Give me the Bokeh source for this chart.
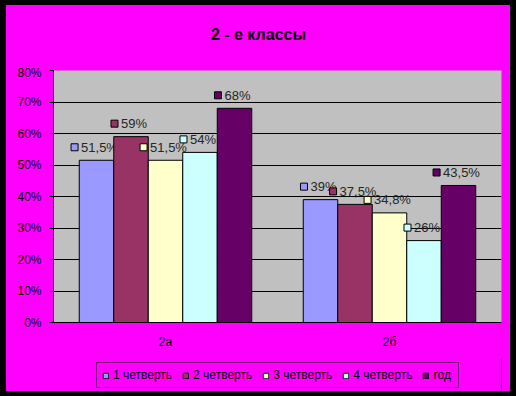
from bokeh.plotting import figure
from bokeh.layouts import column
from bokeh.models import (ColumnDataSource, FactorRange, Range1d, FixedTicker,
                          NumeralTickFormatter, Legend, LegendItem, Label)
from bokeh.transform import dodge
from bokeh.embed import file_html
from bokeh.resources import INLINE

# ---------------- data ----------------
title_text = "2 - е классы"
categories = ["2а", "2б"]
series_names = ["1 четверть", "2 четверть", "3 четверть", "4 четверть", "год"]
q1 = [51.5, 39.0]
q2 = [59.0, 37.5]
q3 = [51.5, 34.8]
q4 = [54.0, 26.0]
year = [68.0, 43.5]
y_ticks = [0, 10, 20, 30, 40, 50, 60, 70, 80]

series_values = [q1, q2, q3, q4, year]

# ---------------- style ----------------
colors = ["#9999FF", "#993366", "#FFFFCC", "#CCFFFF", "#660066"]
BG = "#FF00FF"
FONT = "Liberation Sans"
W = 504
H_TOP, H_MAIN, H_LEG = 60, 293, 33
ML, MR, MT, MB = 47, 9, 5, 36
frame_w = W - ML - MR
frame_h = H_MAIN - MT - MB
y_max = y_ticks[-1] / 100
unit_per_px_x = len(categories) / frame_w
unit_per_px_y = y_max / frame_h
bar_w = 34.5 * unit_per_px_x
LABEL_PX = 13
char_w = {"%": 0.889, ",": 0.278}


def text_width(s, size=LABEL_PX):
    return sum(char_w.get(ch, 0.556) for ch in s) * size


def blank_fig(h):
    f = figure(width=W, height=h, title=None, x_axis_type=None, y_axis_type=None,
               output_backend="svg", toolbar_location=None,
               min_border=0, x_range=Range1d(0, 1), y_range=Range1d(0, 1))
    f.background_fill_color = BG
    f.border_fill_color = BG
    f.outline_line_color = None
    return f


# ---------------- title ----------------
p_top = blank_fig(H_TOP)
# screen units here are relative to the (column-aligned) frame, whose left is at ML
p_top.add_layout(Label(x=252 - ML, y=31, x_units="screen", y_units="screen",
                       text=title_text, text_align="center", text_baseline="middle",
                       text_font=FONT, text_font_size="16px", text_font_style="bold",
                       text_color="black"))

# ---------------- main chart ----------------
p = figure(width=W, height=H_MAIN, title=None,
           x_range=FactorRange(factors=categories, range_padding=0),
           y_range=Range1d(0, y_max),
           output_backend="svg", toolbar_location=None,
           min_border_left=ML, min_border_right=MR,
           min_border_top=MT, min_border_bottom=MB)

p.background_fill_color = "#C0C0C0"
p.border_fill_color = BG
p.outline_line_color = None

n = len(series_values)
for i, (name, vals, col) in enumerate(zip(series_names, series_values, colors)):
    off = (i - (n - 1) / 2) * bar_w
    labels = [("%g" % v).replace(".", ",") + "%" for v in vals]
    key_x, key_y, txo = [], [], []
    for c, v, lab in zip(categories, vals, labels):
        total = 7 + 3 + text_width(lab)
        start_px = -total / 2 - 2
        key_x.append((c, off + (start_px + 3.5) * unit_per_px_x))
        key_y.append(v / 100 + 13 * unit_per_px_y)
        txo.append(start_px + 10)
    src = ColumnDataSource(dict(cat=categories, val=[v / 100 for v in vals],
                                lab=labels, kx=key_x, ky=key_y, txo=txo))
    p.vbar(x=dodge("cat", off, range=p.x_range), top="val", width=bar_w,
           source=src, fill_color=col, line_color="black", line_width=1)
    p.text(x=dodge("cat", off, range=p.x_range), y="val", text="lab",
           x_offset="txo", y_offset=-13, source=src,
           text_align="left", text_baseline="middle",
           text_font_size=f"{LABEL_PX}px", text_color="#262626",
           text_font={"value": FONT})
    p.scatter(x="kx", y="ky", source=src, marker="square", size=7,
              fill_color=col, line_color="black", line_width=1)

p.xgrid.grid_line_color = None
p.ygrid.grid_line_color = "black"
p.ygrid.grid_line_width = 1
p.yaxis.ticker = FixedTicker(ticks=[t / 100 for t in y_ticks])
p.yaxis.formatter = NumeralTickFormatter(format="0%")
p.yaxis.major_tick_out = 4
p.yaxis.major_tick_in = 0
p.yaxis.minor_tick_line_color = None
p.yaxis.axis_line_color = "black"
p.yaxis.major_tick_line_color = "black"
p.yaxis.major_label_standoff = 8
p.yaxis.major_label_text_font = FONT
p.yaxis.major_label_text_font_size = "12px"
p.yaxis.major_label_text_color = "black"

p.xaxis.major_tick_line_color = None
p.xaxis.minor_tick_line_color = None
p.xaxis.major_tick_out = 0
p.xaxis.axis_line_color = "black"
p.xaxis.major_label_standoff = 12
p.xaxis.major_label_text_font = FONT
p.xaxis.major_label_text_font_size = "12px"
p.xaxis.major_label_text_color = "black"

# ---------------- legend ----------------
p_leg = blank_fig(H_LEG)
legend_items = []
for name, col in zip(series_names, colors):
    # swatch-only renderer, placed outside the visible range of this strip
    r = p_leg.vbar(x=[5], top=[1], width=0.1, fill_color=col,
                   line_color="black", line_width=1)
    legend_items.append(LegendItem(label=name, renderers=[r]))
legend = Legend(items=legend_items, orientation="horizontal", location=(43, 3),
                glyph_width=7, glyph_height=7, label_standoff=4, spacing=10,
                padding=5, margin=0, label_height=12,
                border_line_color="black", border_line_width=1,
                background_fill_color=BG, background_fill_alpha=1,
                label_text_font=FONT, label_text_font_size="12px",
                label_text_color="black")
p_leg.add_layout(legend, "center")

layout = column(p_top, p, p_leg, spacing=0, styles={"background-color": BG})

html = file_html(layout, INLINE)
html = html.replace("</head>",
                    "<style>html{background:#000000 !important;}"
                    "body{margin:5px 0 0 6px !important;padding:0 !important;"
                    "width:504px !important;height:386px !important;"
                    "background:#FF00FF !important;}</style></head>", 1)
open("out.html", "w").write(html)
